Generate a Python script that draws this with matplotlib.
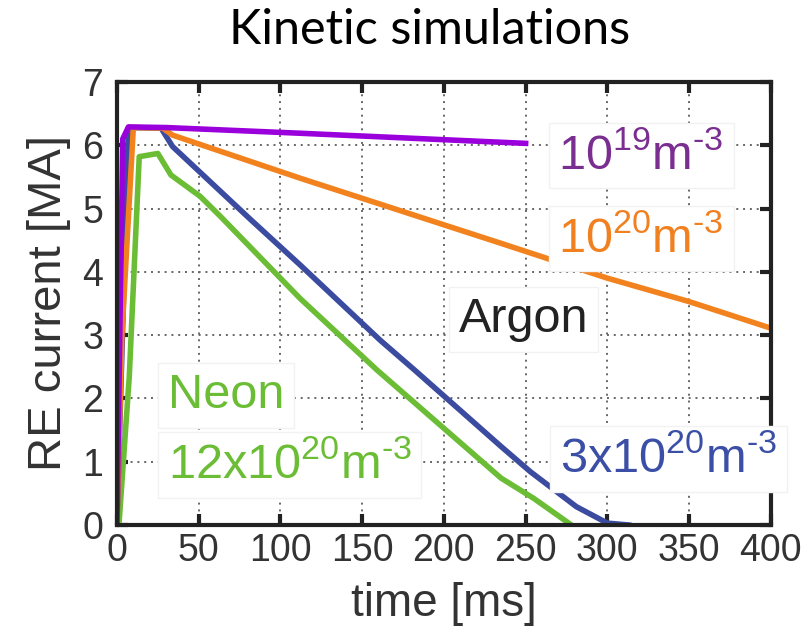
import matplotlib.pyplot as plt
import numpy as np

plt.rcParams['font.family'] = ['Liberation Sans', 'DejaVu Sans']
plt.rcParams['mathtext.fontset'] = 'custom'
plt.rcParams['mathtext.rm'] = 'Liberation Sans'

# Data: time [ms], RE current [MA]
t_19 = [0, 3.5, 7, 30, 112, 250]
i_19 = [0.05, 6.1, 6.29, 6.28, 6.19, 6.03]

t_20 = [0, 3, 10, 28, 34, 112, 235, 300, 350, 400]
i_20 = [0.05, 3.0, 6.28, 6.27, 6.16, 5.48, 4.45, 3.9, 3.53, 3.11]

t_3x20 = [0, 7, 27, 34, 82, 112, 161, 182, 235, 253, 281, 300, 313]
i_3x20 = [0.05, 6.28, 6.27, 5.98, 4.82, 4.11, 2.92, 2.45, 1.24, 0.84, 0.29, 0.03, 0.0]

t_ne = [1.4, 7.5, 13.6, 25, 33, 51, 63.5, 112, 159, 235, 255, 278]
i_ne = [0.08, 2.34, 5.82, 5.87, 5.53, 5.19, 4.87, 3.58, 2.45, 0.74, 0.42, 0.0]

purple = '#9a00dc'
orange = '#f2821e'
blue = '#3b4b9f'
green = '#6bbd35'

fig = plt.figure(figsize=(8.08, 6.33), dpi=100)
ax = fig.add_axes([0.1448, 0.1706, 0.8092, 0.6999])

lw = 4.0
ax.plot(t_ne, i_ne, color=green, lw=lw, solid_joinstyle='round')
ax.plot(t_3x20, i_3x20, color=blue, lw=lw, solid_joinstyle='round')
ax.plot(t_20, i_20, color=orange, lw=lw, solid_joinstyle='round')
ax.plot(t_19, i_19, color=purple, lw=lw, solid_joinstyle='round')

ax.set_xlim(0, 400)
ax.set_ylim(0, 7)
ax.set_xticks(np.arange(0, 401, 50))
ax.set_yticks(np.arange(0, 8, 1))
ax.grid(True, color='#666666', linestyle=(0, (1, 2.5)), linewidth=1.4)
ax.set_axisbelow(True)

for s in ax.spines.values():
    s.set_linewidth(3)
    s.set_color('#222222')
ax.tick_params(direction='in', length=8, width=3, color='#222222',
               labelsize=27, labelcolor='#333333', top=True, right=True,
               pad=6)
ax.tick_params(axis='y', pad=10)

ax.set_xlabel('time [ms]', fontsize=33, color='#333333', labelpad=9)
ax.set_ylabel('RE current [MA]', fontsize=34, color='#333333', labelpad=8)

fig.text(0.532, 0.953, 'Kinetic simulations', fontsize=35, family=['Lato', 'DejaVu Sans'],
         ha='center', va='center', color='black')

box = dict(facecolor='white', edgecolor='#f2f2f2', boxstyle='square,pad=0.2')
fs = 35
ax.text(270, 5.63, r'$\mathregular{10^{19}m^{\text{-}3}}$', color='#7a2e90', fontsize=fs, va='baseline', bbox=box)
ax.text(270, 4.32, r'$\mathregular{10^{20}m^{\text{-}3}}$', color='#f08020', fontsize=fs, va='baseline', bbox=box)
ax.text(209, 3.05, 'Argon', color='#222222', fontsize=fs, va='baseline', bbox=box)
ax.text(31, 1.85, 'Neon', color=green, fontsize=fs, va='baseline', bbox=box)
ax.text(31, 0.74, r'$\mathregular{12x10^{20}m^{\text{-}3}}$', color=green, fontsize=fs, va='baseline', bbox=box)
ax.text(271, 0.84, r'$\mathregular{3x10^{20}m^{\text{-}3}}$', color='#3a4fa5', fontsize=fs, va='baseline', bbox=box)

fig.savefig('out.png', dpi=100)
